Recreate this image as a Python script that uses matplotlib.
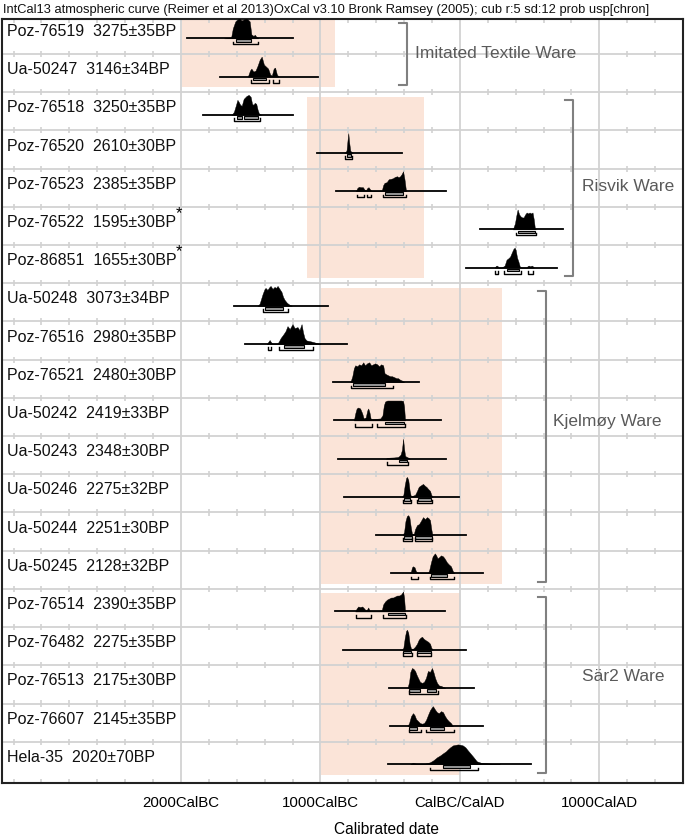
import matplotlib
matplotlib.use('Agg')
import matplotlib.pyplot as plt
from matplotlib.patches import Rectangle

plt.rcParams['font.family'] = ['Liberation Sans', 'DejaVu Sans']

# samples, top to bottom
sample_ids = ['Poz-76519', 'Ua-50247', 'Poz-76518', 'Poz-76520', 'Poz-76523',
              'Poz-76522', 'Poz-86851', 'Ua-50248', 'Poz-76516', 'Poz-76521',
              'Ua-50242', 'Ua-50243', 'Ua-50246', 'Ua-50244', 'Ua-50245',
              'Poz-76514', 'Poz-76482', 'Poz-76513', 'Poz-76607', 'Hela-35']
bp_ages = ['3275±35BP', '3146±34BP', '3250±35BP', '2610±30BP', '2385±35BP',
           '1595±30BP', '1655±30BP', '3073±34BP', '2980±35BP', '2480±30BP',
           '2419±33BP', '2348±30BP', '2275±32BP', '2251±30BP', '2128±32BP',
           '2390±35BP', '2275±35BP', '2175±30BP', '2145±35BP', '2020±70BP']
starred = ['Poz-76522', 'Poz-86851']

# calendar years (negative = BC) covered by each sample's line
line_start = [-1960, -1720, -1843, -1021, -886, 143, 43, -1621, -1543, -907,
              -900, -871, -829, -600, -493, -893, -836, -507, -500, -514]
line_end = [-1200, -1020, -1193, -414, -100, 736, 693, -943, -807, -293,
            -136, -100, -7, 43, 164, -107, 43, 100, 164, 507]

# probability shapes (year, relative height)
dens_x = [
    [-1690, -1640, -1628, -1610, -1595, -1580, -1565, -1550, -1535, -1520, -1507, -1495, -1480, -1470, -1460, -1445],
    [-1520, -1505, -1495, -1480, -1465, -1450, -1435, -1421, -1405, -1390, -1375, -1360, -1348, -1335, -1325, -1312, -1300],
    [-1635, -1620, -1607, -1595, -1586, -1575, -1564, -1550, -1543, -1529, -1514, -1500, -1490, -1480, -1471, -1460, -1450, -1440, -1425],
    [-830, -818, -812, -806, -800, -794, -786, -778, -768],
    [-745, -736, -725, -710, -695, -686, -675, -665, -655, -645, -635, -600, -560, -550, -540, -525, -510, -495, -480, -465, -450, -440, -428, -418, -407, -397, -386],
    [380, 395, 405, 414, 425, 436, 447, 457, 468, 479, 490, 500, 510, 521, 530, 538, 545],
    [250, 258, 264, 270, 278, 300, 321, 335, 345, 360, 375, 385, 393, 400, 410, 420, 430, 440, 480, 486, 495, 505, 515, 521, 530],
    [-1450, -1436, -1425, -1414, -1400, -1393, -1380, -1365, -1357, -1343, -1329, -1318, -1307, -1293, -1279, -1268, -1257, -1240, -1221, -1205],
    [-1385, -1372, -1364, -1355, -1345, -1310, -1300, -1285, -1264, -1250, -1236, -1220, -1200, -1185, -1164, -1150, -1135, -1125, -1114, -1100, -1080, -1050, -1020, -1000],
    [-785, -771, -760, -750, -736, -722, -707, -693, -680, -665, -650, -636, -622, -607, -593, -579, -565, -550, -540, -529, -515, -500, -486, -470, -455, -443, -428, -414, -400],
    [-760, -750, -740, -729, -715, -700, -690, -675, -664, -657, -648, -640, -630, -600, -570, -555, -545, -536, -521, -500, -470, -440, -420, -407, -400, -393],
    [-530, -521, -500, -470, -445, -436, -425, -415, -407, -400, -393, -386, -378, -371, -360],
    [-415, -405, -395, -385, -379, -370, -360, -352, -340, -321, -307, -295, -286, -275, -264, -250, -240, -228, -214, -205, -195],
    [-410, -400, -390, -380, -371, -362, -352, -343, -330, -321, -307, -293, -280, -264, -250, -236, -225, -214, -205, -197],
    [-360, -350, -343, -336, -325, -315, -305, -290, -230, -220, -207, -195, -179, -170, -160, -150, -135, -121, -110, -93, -80, -64, -50, -40],
    [-750, -740, -729, -715, -700, -686, -675, -665, -657, -648, -640, -600, -560, -550, -536, -521, -507, -493, -479, -465, -450, -436, -422, -407, -400, -393],
    [-415, -405, -395, -385, -379, -370, -360, -350, -335, -321, -307, -295, -283, -271, -260, -250, -240, -228, -214, -205, -195],
    [-375, -364, -355, -343, -332, -321, -310, -300, -286, -271, -257, -243, -229, -214, -200, -190, -178, -164, -150, -135, -121, -105],
    [-375, -364, -350, -336, -325, -314, -300, -286, -271, -257, -243, -229, -214, -200, -193, -180, -165, -150, -135, -121, -107, -93, -80, -64, -50],
    [-355, -336, -320, -300, -250, -214, -190, -164, -140, -121, -100, -86, -70, -50, -30, -14, 5, 21, 40, 57, 75, 93, 110, 121, 150, 193, 240, 286],
]
dens_h = [
    [0, 0.05, 0.5, 0.85, 0.95, 1.0, 0.9, 0.95, 1.0, 0.95, 0.85, 0.2, 0.12, 0.18, 0.08, 0],
    [0, 0.3, 0.4, 0.25, 0.3, 0.55, 0.85, 1.0, 0.6, 0.5, 0.4, 0.1, 0.05, 0.4, 0.45, 0.1, 0],
    [0, 0.15, 0.45, 0.75, 0.65, 0.5, 0.45, 0.8, 0.85, 0.95, 1.0, 0.9, 0.55, 0.5, 0.6, 0.55, 0.25, 0.05, 0],
    [0, 0.05, 0.15, 0.6, 1.0, 0.55, 0.12, 0.05, 0],
    [0, 0.15, 0.22, 0.2, 0.2, 0.1, 0.02, 0.15, 0.2, 0.1, 0.02, 0.01, 0.02, 0.3, 0.42, 0.45, 0.6, 0.62, 0.65, 0.72, 0.75, 0.7, 0.75, 0.85, 1.0, 0.6, 0],
    [0, 0.3, 0.7, 1.0, 0.75, 0.65, 0.6, 0.6, 0.75, 0.85, 0.8, 0.85, 0.8, 0.85, 0.5, 0.05, 0],
    [0, 0.08, 0.1, 0.08, 0, 0, 0.1, 0.4, 0.45, 0.55, 0.8, 0.95, 1.0, 0.9, 0.5, 0.3, 0.05, 0, 0, 0.08, 0.1, 0.06, 0.1, 0.08, 0],
    [0, 0.1, 0.35, 0.6, 0.85, 0.9, 0.8, 0.95, 1.0, 0.85, 0.95, 0.9, 1.0, 0.85, 0.7, 0.45, 0.3, 0.15, 0.05, 0],
    [0, 0.12, 0.2, 0.1, 0.02, 0.02, 0.1, 0.3, 0.5, 0.65, 0.9, 0.75, 1.0, 0.8, 0.85, 0.7, 1.0, 0.6, 0.3, 0.18, 0.15, 0.1, 0.03, 0],
    [0, 0.3, 0.7, 0.85, 0.8, 0.9, 0.85, 1.0, 0.85, 0.95, 1.0, 0.85, 0.9, 0.95, 0.9, 0.8, 0.9, 0.85, 0.45, 0.4, 0.35, 0.3, 0.3, 0.25, 0.2, 0.2, 0.12, 0.08, 0],
    [0, 0.35, 0.6, 0.65, 0.6, 0.35, 0.1, 0.15, 0.5, 0.6, 0.4, 0.1, 0.05, 0.08, 0.1, 0.25, 0.75, 0.95, 1.0, 1.0, 1.0, 1.0, 1.0, 0.98, 0.7, 0],
    [0, 0.04, 0.05, 0.06, 0.08, 0.12, 0.2, 0.45, 1.0, 0.5, 0.15, 0.1, 0.08, 0.05, 0],
    [0, 0.1, 0.6, 0.95, 1.0, 0.85, 0.3, 0.05, 0.05, 0.1, 0.3, 0.5, 0.55, 0.6, 0.65, 0.55, 0.5, 0.4, 0.3, 0.1, 0],
    [0, 0.15, 0.7, 0.95, 1.0, 0.9, 0.4, 0.05, 0.05, 0.3, 0.5, 0.55, 0.7, 0.9, 0.8, 0.9, 0.85, 0.75, 0.3, 0],
    [0, 0.1, 0.3, 0.35, 0.3, 0.1, 0.03, 0, 0, 0.15, 0.55, 0.85, 1.0, 0.9, 0.75, 0.8, 0.9, 0.85, 0.75, 0.55, 0.45, 0.35, 0.1, 0],
    [0, 0.15, 0.25, 0.22, 0.25, 0.15, 0.05, 0.1, 0.2, 0.05, 0.02, 0.02, 0.05, 0.35, 0.5, 0.6, 0.65, 0.7, 0.7, 0.75, 0.8, 0.8, 0.85, 1.0, 0.7, 0],
    [0, 0.1, 0.6, 0.95, 1.0, 0.85, 0.3, 0.05, 0.05, 0.15, 0.3, 0.5, 0.6, 0.65, 0.55, 0.5, 0.45, 0.4, 0.3, 0.1, 0],
    [0, 0.3, 0.8, 1.0, 0.95, 0.85, 0.65, 0.5, 0.3, 0.25, 0.3, 0.5, 0.85, 0.8, 1.0, 0.8, 0.5, 0.25, 0.12, 0.1, 0.05, 0],
    [0, 0.15, 0.5, 0.65, 0.55, 0.35, 0.25, 0.15, 0.12, 0.15, 0.3, 0.55, 0.8, 0.95, 1.0, 0.85, 0.7, 0.65, 0.75, 0.7, 0.5, 0.35, 0.25, 0.15, 0],
    [0, 0.08, 0.04, 0.02, 0.03, 0.1, 0.2, 0.35, 0.45, 0.55, 0.65, 0.75, 0.85, 0.95, 0.98, 1.0, 0.98, 0.95, 0.85, 0.7, 0.55, 0.4, 0.25, 0.15, 0.08, 0.05, 0.02, 0],
]

# 68.2% and 95.4% ranges
range68 = [
    [(-1607, -1500)], [(-1486, -1390)], [(-1600, -1565), (-1545, -1450)], [(-811, -782)],
    [(-536, -407)], [(414, 536)], [(335, 425)], [(-1400, -1271)], [(-1264, -1121)],
    [(-764, -536)], [(-536, -400)], [(-436, -379)], [(-400, -355), (-300, -210)],
    [(-400, -343), (-321, -200)], [(-207, -93)], [(-514, -393)],
    [(-405, -350), (-305, -210)], [(-364, -286), (-236, -171)],
    [(-364, -307), (-214, -114)], [(-121, 71)],
]
range95 = [
    [(-1625, -1445)], [(-1500, -1371), (-1343, -1300)], [(-1621, -1436)], [(-821, -771)],
    [(-736, -686), (-664, -636), (-550, -386)], [(400, 543)],
    [(255, 275), (315, 435), (486, 521)], [(-1414, -1229)],
    [(-1379, -1357), (-1300, -1050)], [(-779, -479)], [(-750, -629), (-593, -393)],
    [(-521, -371)], [(-407, -350), (-307, -200)], [(-405, -340), (-325, -198)],
    [(-350, -300), (-214, -43)], [(-743, -636), (-550, -386)],
    [(-407, -343), (-307, -207)], [(-364, -157)], [(-364, -279), (-243, -43)],
    [(-214, 129)],
]

# ware groups: name, first row, last row
group_names = ['Imitated Textile Ware', 'Risvik Ware', 'Kjelmøy Ware', 'Sär2 Ware']
group_first = [0, 2, 7, 15]
group_last = [1, 6, 14, 19]
# shaded period for each group (years)
period_start = [-1995, -1095, -995, -995]
period_end = [-895, -258, 300, 0]

tick_years = [-2000, -1000, 0, 1000]
tick_labels = ['2000CalBC', '1000CalBC', 'CalBC/CalAD', '1000CalAD']

# layout
bracket_x = [-380, 810, 616, 616]
group_label_x = [-325, 877, 667, 877]
group_label_y = [0.5, 3.96, 10.13, 16.8]
peak = 0.52
shade = '#fbe4d8'
grid_col = '#d2d2d2'

fig = plt.figure(figsize=(6.85, 8.38), dpi=100)
ax = fig.add_axes([2 / 685, 55 / 838, 681 / 685, 764 / 838])
n = len(sample_ids)
ax.set_xlim(-3283, 1600)
ax.set_ylim(19.58, -0.416)

# shaded periods
for g in range(len(group_names)):
    y0 = group_first[g] - 0.38
    y1 = group_last[g] + 0.36
    ax.add_patch(Rectangle((period_start[g], y0), period_end[g] - period_start[g], y1 - y0,
                           fc=shade, ec='none', zorder=0))

# grid
for k in range(n - 1):
    ax.axhline(k + 0.5, color=grid_col, lw=1.3, zorder=1)
for yr in tick_years:
    ax.axvline(yr, color=grid_col, lw=1.3, zorder=1)
minor = [y for y in range(-3200, 1600, 200) if y not in tick_years]
for k in range(n - 1):
    ax.vlines(minor, k + 0.42, k + 0.58, color=grid_col, lw=1.2, zorder=1)
ax.vlines(minor, -0.416, -0.32, color=grid_col, lw=1.2, zorder=1)
ax.vlines(minor, 19.47, 19.58, color=grid_col, lw=1.2, zorder=1)

# distributions
for i in range(n):
    base = i + 0.09
    ax.plot([line_start[i], line_end[i]], [base, base], color='black', lw=1.3, zorder=3)
    tops = [base - h * peak for h in dens_h[i]]
    ax.fill_between(dens_x[i], base, tops, color='black', lw=0.3, zorder=4)
    for a, b in range68[i]:
        ax.add_patch(Rectangle((a, base + 0.03), b - a, 0.07, fc='#9a9a9a',
                               ec='black', lw=0.8, zorder=4))
    for a, b in range95[i]:
        ax.plot([a, a, b, b], [base + 0.09, base + 0.16, base + 0.16, base + 0.09],
                color='black', lw=1.0, zorder=4)
    ax.text(-3247, i - 0.09, sample_ids[i] + '  ' + bp_ages[i], fontsize=11.5,
            va='center', ha='left', color='#111111', zorder=5)
    if sample_ids[i] in starred:
        ax.text(-2036, i - 0.33, '*', fontsize=12, va='center', ha='left', zorder=5)

# group brackets
for g in range(len(group_names)):
    y0 = group_first[g] - 0.3
    y1 = group_last[g] + 0.32
    bx = bracket_x[g]
    ax.plot([bx - 55, bx, bx, bx - 55], [y0, y0, y1, y1], color='#808080', lw=1.5, zorder=3)
    ax.text(group_label_x[g], group_label_y[g], group_names[g], fontsize=12.5,
            color='#5a5a5a', va='center', ha='left', zorder=5)

ax.set_xticks(tick_years)
ax.set_xticklabels(tick_labels, fontsize=10.8)
ax.tick_params(axis='x', length=0, pad=9)
ax.set_yticks([])
for s in ax.spines.values():
    s.set_linewidth(1.5)
    s.set_color('#222222')

fig.text(3 / 685, 1 - 10 / 838,
         'IntCal13 atmospheric curve (Reimer et al 2013)OxCal v3.10 Bronk Ramsey (2005); cub r:5 sd:12 prob usp[chron]',
         fontsize=9.3, va='center', ha='left', color='#111111')
fig.text(387 / 685, 1 - 829 / 838, 'Calibrated date', fontsize=11.2, va='center', ha='center')

plt.savefig('out.png', dpi=100)
